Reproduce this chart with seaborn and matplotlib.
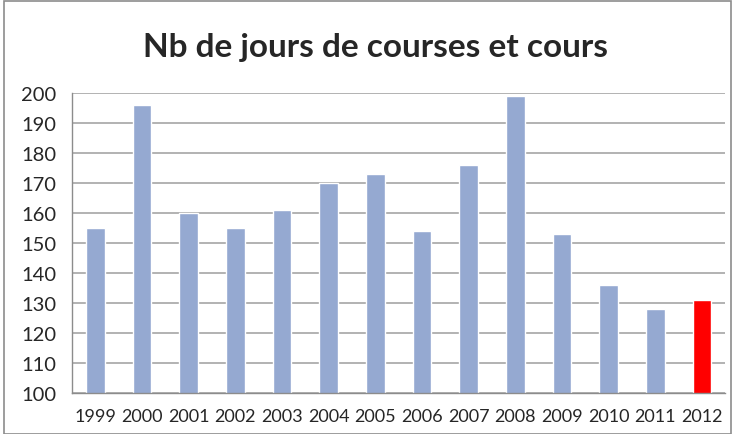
import matplotlib
matplotlib.use("Agg")
import matplotlib.pyplot as plt
import seaborn as sns
import numpy as np
from matplotlib.patches import Rectangle

years = ['1999', '2000', '2001', '2002', '2003', '2004', '2005',
         '2006', '2007', '2008', '2009', '2010', '2011', '2012']
days = [155, 196, 160, 155, 161, 170, 173, 154, 176, 199, 153, 136, 128, 131]
bar_colors = ['#95A9D1'] * 13 + ['#FF0000']

sns.set_style("white")
plt.rcParams['font.family'] = ['Lato', 'DejaVu Sans']

fig = plt.figure(figsize=(7.34, 4.35), dpi=100)
ax = fig.add_axes([0.098, 0.094, 0.890, 0.690])

sns.barplot(x=years, y=days, hue=years, palette=bar_colors, legend=False,
            width=0.4, saturation=1, ax=ax)

ax.set_ylim(100, 200)
ax.set_yticks(np.arange(100, 201, 10))
ax.yaxis.grid(True, color='#A6A6A6', linewidth=1.2)
ax.set_axisbelow(True)

for s in ['top', 'right']:
    ax.spines[s].set_visible(False)
for s in ['left', 'bottom']:
    ax.spines[s].set_color('#8C8C8C')
    ax.spines[s].set_linewidth(1.0)

ax.set_xlim(-0.5, len(years) - 0.5)
ax.set_xticks(np.arange(-0.5, len(years)), minor=True)
ax.tick_params(axis='x', which='major', length=0, labelsize=13, pad=11)
ax.tick_params(axis='x', which='minor', length=5, color='#8C8C8C', direction='out')
ax.tick_params(axis='y', length=5, color='#8C8C8C', direction='out', labelsize=14.5, pad=6)
ax.set_xlabel('')
ax.set_ylabel('')

fig.text(0.512, 0.89, 'Nb de jours de courses et cours', ha='center', va='center',
         fontsize=24, fontweight='bold')

# chart border as in the spreadsheet export
fig.patches.append(Rectangle((0.006, 0.0), 0.99, 0.995, transform=fig.transFigure,
                             fill=False, edgecolor='#8C8C8C', linewidth=1.2))

fig.savefig('out.png', dpi=100)
